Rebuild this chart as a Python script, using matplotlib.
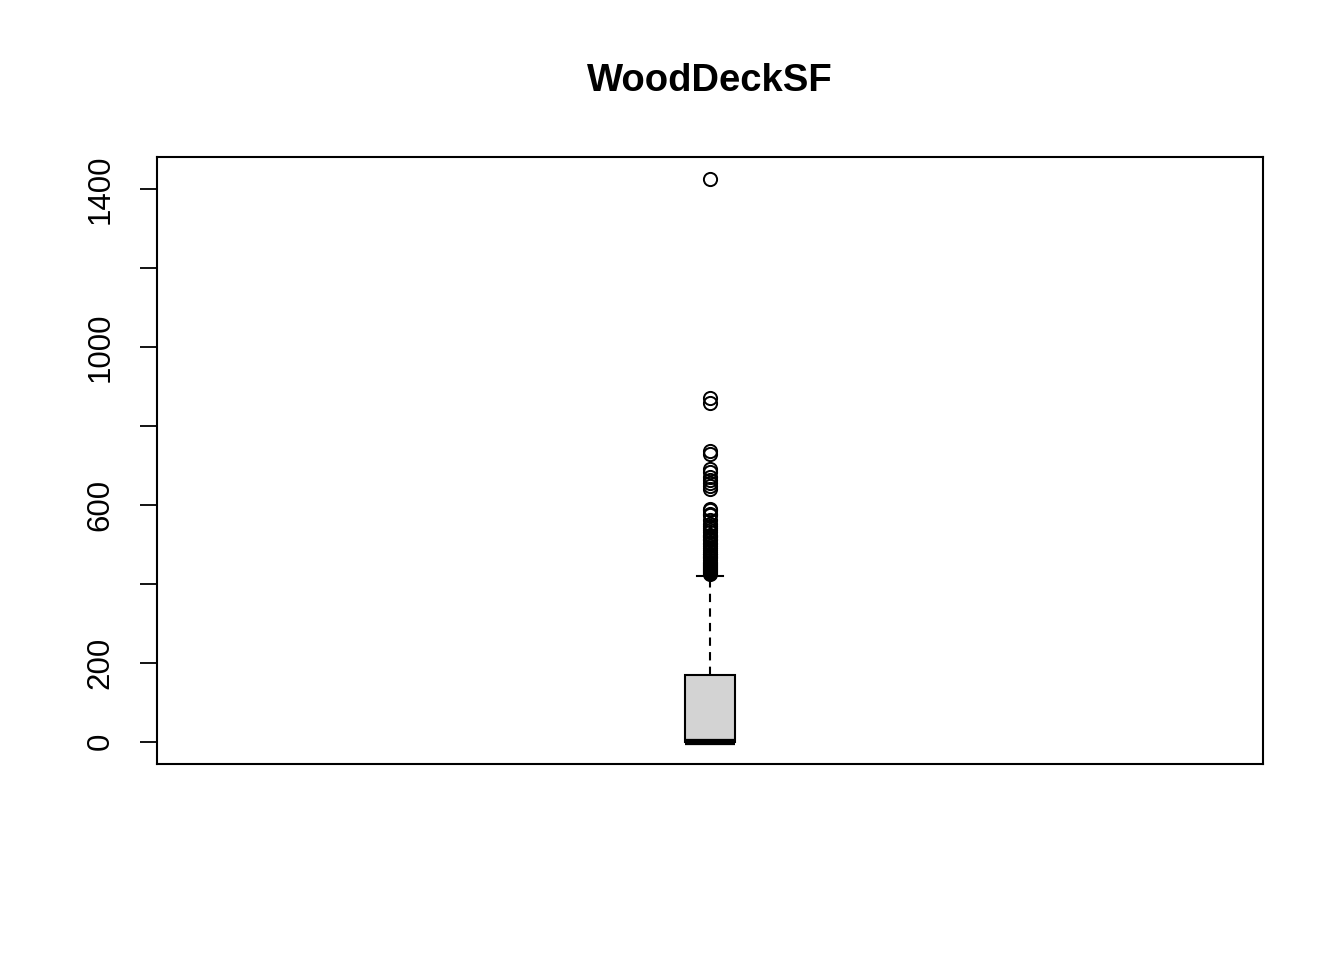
import matplotlib.pyplot as plt

variable = "WoodDeckSF"

# five-number summary
q1 = 0
median = 0
q3 = 168
whisker_low = 0
whisker_high = 420

outliers = [424, 428, 430, 432, 435, 438, 440, 441, 444, 448, 450, 452, 455,
            460, 466, 468, 470, 474, 476, 480, 486, 490, 495, 500, 503, 510,
            512, 517, 520, 522, 530, 536, 540, 545, 550, 560, 574, 576, 586,
            590, 640, 648, 656, 662, 670, 683, 690, 728, 736, 857, 870, 1424]

yticks = [0, 200, 400, 600, 800, 1000, 1200, 1400]
ylabels = ["0", "200", "", "600", "", "1000", "", "1400"]

plt.rcParams['font.family'] = ['Liberation Sans', 'DejaVu Sans']

fig = plt.figure(figsize=(13.44, 9.6), dpi=100)
ax = fig.add_axes([157 / 1344, 1 - 764 / 960, 1106 / 1344, 607 / 960])

stats = [dict(med=median, q1=q1, q3=q3, whislo=whisker_low,
              whishi=whisker_high, fliers=outliers)]
ax.bxp(stats, positions=[1], widths=0.046, patch_artist=True,
       boxprops=dict(facecolor="#d3d3d3", edgecolor="black", linewidth=1.5),
       medianprops=dict(color="black", linewidth=4.5, solid_capstyle="butt"),
       whiskerprops=dict(color="black", linewidth=1.5, linestyle=(0, (4, 3))),
       capprops=dict(color="black", linewidth=1.5),
       capwidths=0.023,
       flierprops=dict(marker="o", markerfacecolor="none",
                       markeredgecolor="black", markersize=9.5,
                       markeredgewidth=1.4))

lo, hi = 0, max(outliers)
ext = (hi - lo) * 0.04
ax.set_ylim(lo - ext, hi + ext)
ax.set_xlim(0.5, 1.5)
ax.set_xticks([])
ax.set_yticks(yticks)
ax.set_yticklabels(ylabels, rotation=90, va="center", fontsize=22.5)
ax.tick_params(axis="y", length=12, width=1.3, pad=18)
for s in ax.spines.values():
    s.set_linewidth(1.5)

fig.text(710 / 1344, 1 - 81 / 960, variable, ha="center", va="center",
         fontsize=27.5, fontweight="bold")

fig.savefig("out.png", dpi=100)
